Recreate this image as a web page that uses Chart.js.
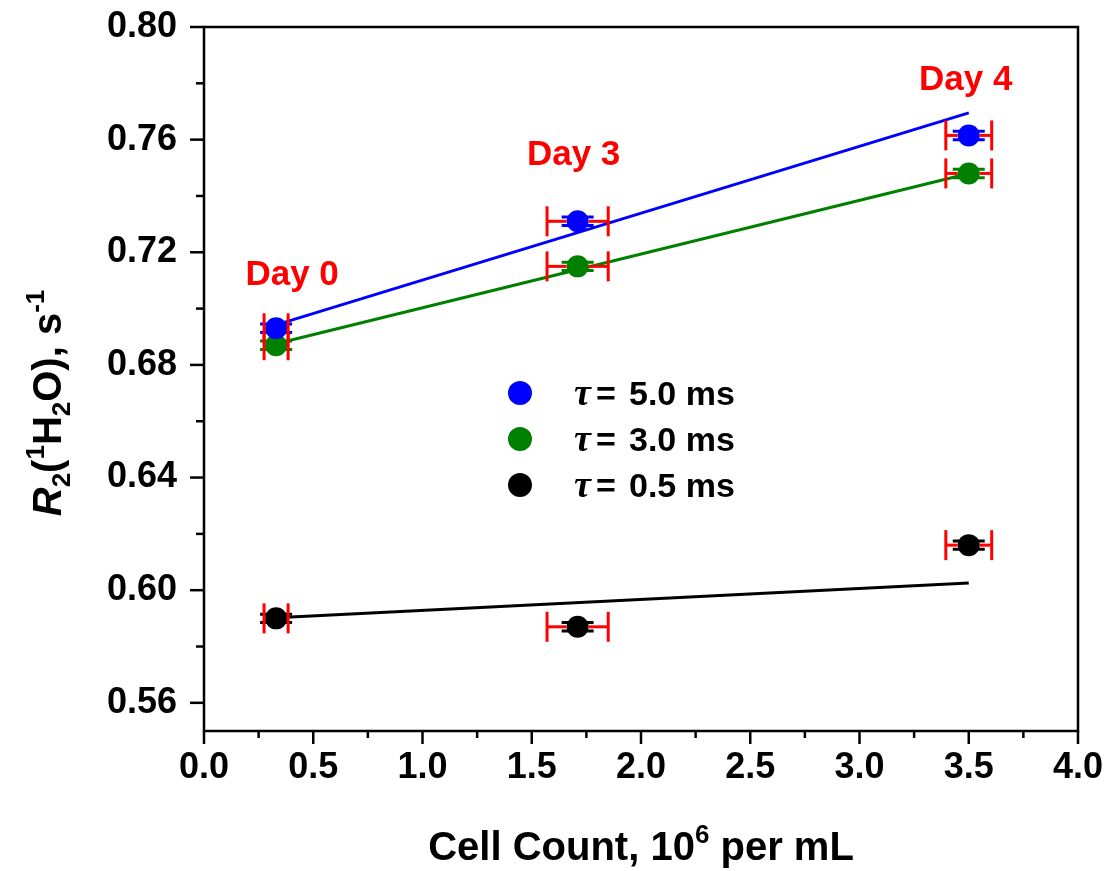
<!DOCTYPE html>
<html lang="en">
<head>
    <meta charset="UTF-8">
    <title>R2 vs Cell Count</title>
    <script src="https://cdn.jsdelivr.net/npm/chart.js@4.4.1/dist/chart.umd.min.js"></script>
    <style>
        html, body { margin: 0; padding: 0; background: #fff; }
    </style>
</head>
<body>
    <canvas id="chart" width="1109" height="871"></canvas>

    <script>
        // data
        const cellCount = [0.33, 1.71, 3.50];
        const cellCountErr = [0.055, 0.14, 0.105];
        const dayLabels = ['Day 0', 'Day 3', 'Day 4'];

        const r2Tau50 = [0.693, 0.731, 0.7615];
        const r2Tau30 = [0.687, 0.715, 0.748];
        const r2Tau05 = [0.590, 0.587, 0.616];
        const r2Err = [0.0015, 0.0015, 0.0015];

        // linear fits (end points)
        const fitX = [0.33, 3.50];
        const fitTau50 = [0.6942, 0.7695];
        const fitTau30 = [0.6875, 0.748];
        const fitTau05 = [0.5902, 0.6026];

        const xTicks = [0.0, 0.5, 1.0, 1.5, 2.0, 2.5, 3.0, 3.5, 4.0];
        const xMinorTicks = [0.25, 0.75, 1.25, 1.75, 2.25, 2.75, 3.25, 3.75];
        const yTicks = [0.56, 0.60, 0.64, 0.68, 0.72, 0.76, 0.80];
        const yMinorTicks = [0.58, 0.62, 0.66, 0.70, 0.74, 0.78];

        const series = [
            { tau: '5.0', values: r2Tau50, fit: fitTau50, color: '#0000ff' },
            { tau: '3.0', values: r2Tau30, fit: fitTau30, color: '#008000' },
            { tau: '0.5', values: r2Tau05, fit: fitTau05, color: '#000000' }
        ];

        const SANS = '"Liberation Sans", Arial, sans-serif';
        const SERIF = '"Liberation Serif", "Times New Roman", serif';
        const MARKER_R = 11;

        function toPoints(xs, ys) {
            return xs.map((v, i) => ({ x: v, y: ys[i] }));
        }

        function seg(ctx, x0, y0, x1, y1) {
            ctx.beginPath();
            ctx.moveTo(x0, y0);
            ctx.lineTo(x1, y1);
            ctx.stroke();
        }

        // draws a run of text pieces (sub/superscripts) centred on cx,cy
        function drawRich(ctx, pieces, cx, cy, angle) {
            ctx.save();
            ctx.translate(cx, cy);
            ctx.rotate(angle);
            ctx.textBaseline = 'alphabetic';
            ctx.textAlign = 'left';
            let total = 0;
            pieces.forEach(p => { ctx.font = p.font; p.w = ctx.measureText(p.t).width; total += p.w; });
            let px = -total / 2;
            pieces.forEach(p => {
                ctx.font = p.font;
                ctx.fillText(p.t, px, p.dy || 0);
                px += p.w;
            });
            ctx.restore();
        }

        const decorPlugin = {
            id: 'decor',
            afterDatasetsDraw(chart) {
                const { ctx, scales: { x, y } } = chart;
                ctx.save();
                ctx.lineCap = 'butt';

                // y error bars, series colour
                series.forEach(s => {
                    ctx.strokeStyle = s.color;
                    ctx.lineWidth = 3;
                    cellCount.forEach((cx, i) => {
                        const px = x.getPixelForValue(cx);
                        const yTop = y.getPixelForValue(s.values[i] + r2Err[i]);
                        const yBot = y.getPixelForValue(s.values[i] - r2Err[i]);
                        seg(ctx, px - 16, yTop, px + 16, yTop);
                        seg(ctx, px - 16, yBot, px + 16, yBot);
                    });
                });

                // x error bars, red
                ctx.strokeStyle = '#ff0000';
                ctx.lineWidth = 3;
                series.forEach(s => {
                    cellCount.forEach((cx, i) => {
                        const px = x.getPixelForValue(cx);
                        const py = y.getPixelForValue(s.values[i]);
                        const x0 = x.getPixelForValue(cx - cellCountErr[i]);
                        const x1 = x.getPixelForValue(cx + cellCountErr[i]);
                        if (px - MARKER_R > x0) seg(ctx, x0, py, px - MARKER_R, py);
                        if (px + MARKER_R < x1) seg(ctx, px + MARKER_R, py, x1, py);
                        seg(ctx, x0, py - 15, x0, py + 15);
                        seg(ctx, x1, py - 15, x1, py + 15);
                    });
                });
                ctx.restore();
            },
            afterDraw(chart) {
                const { ctx, chartArea: a, scales: { x, y } } = chart;
                ctx.save();

                // frame
                ctx.strokeStyle = '#000';
                ctx.lineWidth = 2.5;
                ctx.strokeRect(a.left, a.top, a.right - a.left, a.bottom - a.top);

                // outward ticks on left and bottom
                xTicks.forEach(v => { const p = x.getPixelForValue(v); seg(ctx, p, a.bottom, p, a.bottom + 13); });
                xMinorTicks.forEach(v => { const p = x.getPixelForValue(v); seg(ctx, p, a.bottom, p, a.bottom + 7); });
                yTicks.forEach(v => { const p = y.getPixelForValue(v); seg(ctx, a.left, p, a.left - 14, p); });
                yMinorTicks.forEach(v => { const p = y.getPixelForValue(v); seg(ctx, a.left, p, a.left - 8, p); });

                // axis titles
                ctx.fillStyle = '#000';
                const big = 'bold 40px ' + SANS;
                const small = 'bold 26px ' + SANS;
                drawRich(ctx, [
                    { t: 'Cell Count, 10', font: big },
                    { t: '6', font: small, dy: -17 },
                    { t: ' per mL', font: big }
                ], (a.left + a.right) / 2, 860, 0);

                drawRich(ctx, [
                    { t: 'R', font: 'italic bold 40px ' + SANS },
                    { t: '2', font: small, dy: 9 },
                    { t: '(', font: big },
                    { t: '1', font: small, dy: -17 },
                    { t: 'H', font: big },
                    { t: '2', font: small, dy: 9 },
                    { t: 'O), s', font: big },
                    { t: '-1', font: small, dy: -17 }
                ], 61, 403, -Math.PI / 2);

                // day labels, anchored on the 5.0 ms points
                const dayOffsets = [[16, -53], [-4, -66], [-3, -55]];
                ctx.fillStyle = '#ff0000';
                ctx.font = 'bold 35px ' + SANS;
                ctx.textAlign = 'center';
                ctx.textBaseline = 'middle';
                dayLabels.forEach((t, i) => {
                    const px = x.getPixelForValue(cellCount[i]) + dayOffsets[i][0];
                    const py = y.getPixelForValue(r2Tau50[i]) + dayOffsets[i][1];
                    ctx.fillText(t, px, py);
                });

                // legend
                const legX = 520, legY = 393, legStep = 46;
                series.forEach((s, i) => {
                    const ly = legY + i * legStep;
                    ctx.fillStyle = s.color;
                    ctx.beginPath();
                    ctx.arc(legX, ly, 12, 0, Math.PI * 2);
                    ctx.fill();

                    ctx.fillStyle = '#000';
                    ctx.textAlign = 'left';
                    ctx.textBaseline = 'alphabetic';
                    ctx.font = 'italic bold 38px ' + SERIF;
                    ctx.fillText('\u03C4', 574, ly + 12);
                    ctx.font = 'bold 34px ' + SANS;
                    ctx.fillText('=', 596, ly + 12);
                    ctx.fillText(s.tau + ' ms', 629, ly + 12);
                });

                ctx.restore();
            }
        };

        const datasets = [];
        series.forEach(s => {
            datasets.push({
                type: 'scatter',
                data: toPoints(cellCount, s.values),
                backgroundColor: s.color,
                borderWidth: 0,
                pointRadius: MARKER_R,
                pointHoverRadius: MARKER_R,
                order: 1
            });
            datasets.push({
                type: 'line',
                data: toPoints(fitX, s.fit),
                borderColor: s.color,
                borderWidth: 3,
                pointRadius: 0,
                fill: false,
                tension: 0,
                order: 2
            });
        });

        new Chart(document.getElementById('chart').getContext('2d'), {
            type: 'scatter',
            data: { datasets },
            options: {
                responsive: false,
                animation: false,
                events: [],
                layout: { padding: { top: 27, right: 31, left: 0, bottom: 0 } },
                plugins: { legend: { display: false }, tooltip: { enabled: false } },
                scales: {
                    x: {
                        type: 'linear',
                        min: 0,
                        max: 4,
                        afterBuildTicks: scale => { scale.ticks = xTicks.map(v => ({ value: v })); },
                        afterFit: scale => {
                            scale.height = 140;
                            scale.paddingLeft = 0;
                            scale.paddingRight = 0;
                        },
                        grid: { display: false },
                        border: { display: false },
                        ticks: {
                            padding: 7,
                            color: '#000',
                            font: { family: SANS, size: 36, weight: 'bold' },
                            callback: v => v.toFixed(1)
                        }
                    },
                    y: {
                        type: 'linear',
                        min: 0.55,
                        max: 0.80,
                        afterBuildTicks: scale => { scale.ticks = yTicks.map(v => ({ value: v })); },
                        afterFit: scale => {
                            scale.width = 204;
                            scale.paddingTop = 0;
                            scale.paddingBottom = 0;
                        },
                        grid: { display: false },
                        border: { display: false },
                        ticks: {
                            padding: 19,
                            color: '#000',
                            font: { family: SANS, size: 36, weight: 'bold' },
                            callback: v => v.toFixed(2)
                        }
                    }
                }
            },
            plugins: [decorPlugin]
        });
    </script>
</body>
</html>
